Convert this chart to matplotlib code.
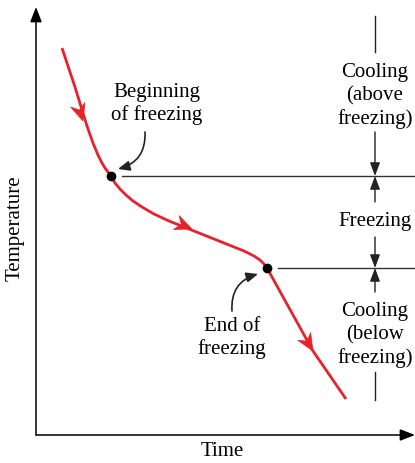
import matplotlib
matplotlib.use("Agg")
import numpy as np
import matplotlib.pyplot as plt
from matplotlib.patches import Polygon
from matplotlib.transforms import IdentityTransform

# ---- data (schematic cooling curve, arbitrary units: time, temperature) ----
cool_above_time = [26, 39, 51, 57, 62, 66, 69, 72, 75]
cool_above_temp = [387, 348, 309, 292, 280, 272, 267, 263, 259]

freezing_time = [75, 79, 84, 90, 97, 106, 118, 133, 148, 163, 178, 193, 208, 218, 224, 228, 231]
freezing_temp = [259, 252, 246, 240, 234, 228, 221, 214, 208, 202, 196, 190, 184, 179, 175, 171, 167]

cool_below_time = [231, 277, 310]
cool_below_temp = [167, 84, 36]

begin_point = (75, 259)
end_point = (231, 167)

# positions (time, temperature) where the direction arrowheads sit
arrow_tips = [(47, 314), (156, 206), (277, 84)]
arrow_dirs = [((26, 387), (51, 309)), ((118, 221), (193, 190)), ((231, 167), (310, 36))]

x_label = "Time"
y_label = "Temperature"
label_begin = "Beginning\nof freezing"
label_end = "End of\nfreezing"
label_cool_above = "Cooling\n(above\nfreezing)"
label_freezing = "Freezing"
label_cool_below = "Cooling\n(below\nfreezing)"

RED = "#e8212b"
FONT = "Liberation Serif"
FS = 15
LS = 1.25

fig = plt.figure(figsize=(4.15, 4.64), dpi=100)
ax = fig.add_axes([0, 0, 1, 1])
ax.set_xlim(-36, 379)
ax.set_ylim(-28, 436)
ax.axis("off")

# axes with arrows
ax.annotate("", xy=(0, 428), xytext=(0, 0),
            arrowprops=dict(arrowstyle="-|>,head_length=0.9,head_width=0.35",
                            lw=1.1, color="black", shrinkA=0, shrinkB=0))
ax.annotate("", xy=(379, 0), xytext=(0, 0),
            arrowprops=dict(arrowstyle="-|>,head_length=0.9,head_width=0.35",
                            lw=1.1, color="black", shrinkA=0, shrinkB=0))
ax.text(186, -16, x_label, ha="center", va="center", fontsize=FS, family=FONT)
ax.text(-21, 208, y_label, ha="center", va="center", rotation=90, fontsize=FS, family=FONT)

# horizontal reference lines
ax.plot([86, 379], [begin_point[1], begin_point[1]], color="#333333", lw=1.0)
ax.plot([242, 379], [end_point[1], end_point[1]], color="#333333", lw=1.0)

# cooling curve
for t, T in [(cool_above_time, cool_above_temp),
             (freezing_time, freezing_temp),
             (cool_below_time, cool_below_temp)]:
    ax.plot(t, T, color=RED, lw=2.0, solid_capstyle="butt", solid_joinstyle="round")

fig.canvas.draw()

def notched_head(tip, d0, d1, color, length=17, half=7.5, notch=5.5):
    tx, ty = ax.transData.transform(tip)
    a = ax.transData.transform(d0)
    b = ax.transData.transform(d1)
    u = (b - a) / np.hypot(*(b - a))
    n = np.array([-u[1], u[0]])
    tipp = np.array([tx, ty])
    base = tipp - u * length
    pts = [tipp, base + n * half, tipp - u * (length - notch), base - n * half]
    ax.add_patch(Polygon(pts, closed=True, transform=IdentityTransform(),
                         facecolor=color, edgecolor=color, lw=0.5, zorder=4))

for tip, (d0, d1) in zip(arrow_tips, arrow_dirs):
    notched_head(tip, d0, d1, RED)

# points
ax.plot(*begin_point, "o", color="black", ms=6, zorder=5)
ax.plot(*end_point, "o", color="black", ms=6, zorder=5)

# annotations with curved arrows
ax.text(121, 332, label_begin, ha="center", va="center", fontsize=FS, family=FONT, linespacing=LS)
ax.annotate("", xy=(82, 266), xytext=(109, 303),
            arrowprops=dict(arrowstyle="-|>,head_length=0.7,head_width=0.3", color="#222222",
                            lw=1.2, connectionstyle="arc3,rad=-0.4", shrinkA=0, shrinkB=0))
ax.text(196, 98, label_end, ha="center", va="center", fontsize=FS, family=FONT, linespacing=LS)
ax.annotate("", xy=(222, 161), xytext=(196, 124),
            arrowprops=dict(arrowstyle="-|>,head_length=0.7,head_width=0.3", color="#222222",
                            lw=1.2, connectionstyle="arc3,rad=-0.4", shrinkA=0, shrinkB=0))

# right-side brackets
XR = 339
def vline(y0, y1):
    ax.plot([XR, XR], [y0, y1], color="#222222", lw=1.0)

def varrow(y0, y1):
    ax.annotate("", xy=(XR, y1), xytext=(XR, y0),
                arrowprops=dict(arrowstyle="-|>,head_length=0.8,head_width=0.3",
                                color="#222222", lw=1.0, shrinkA=0, shrinkB=0))

vline(419, 383)
ax.text(XR, 340, label_cool_above, ha="center", va="center", fontsize=FS, family=FONT, linespacing=LS)
varrow(303, begin_point[1])
varrow(233, begin_point[1])
ax.text(XR, 214, label_freezing, ha="center", va="center", fontsize=FS, family=FONT)
varrow(198, end_point[1])
varrow(143, end_point[1])
ax.text(XR, 101, label_cool_below, ha="center", va="center", fontsize=FS, family=FONT, linespacing=LS)
vline(63, 35)

fig.savefig("out.png", dpi=100)
